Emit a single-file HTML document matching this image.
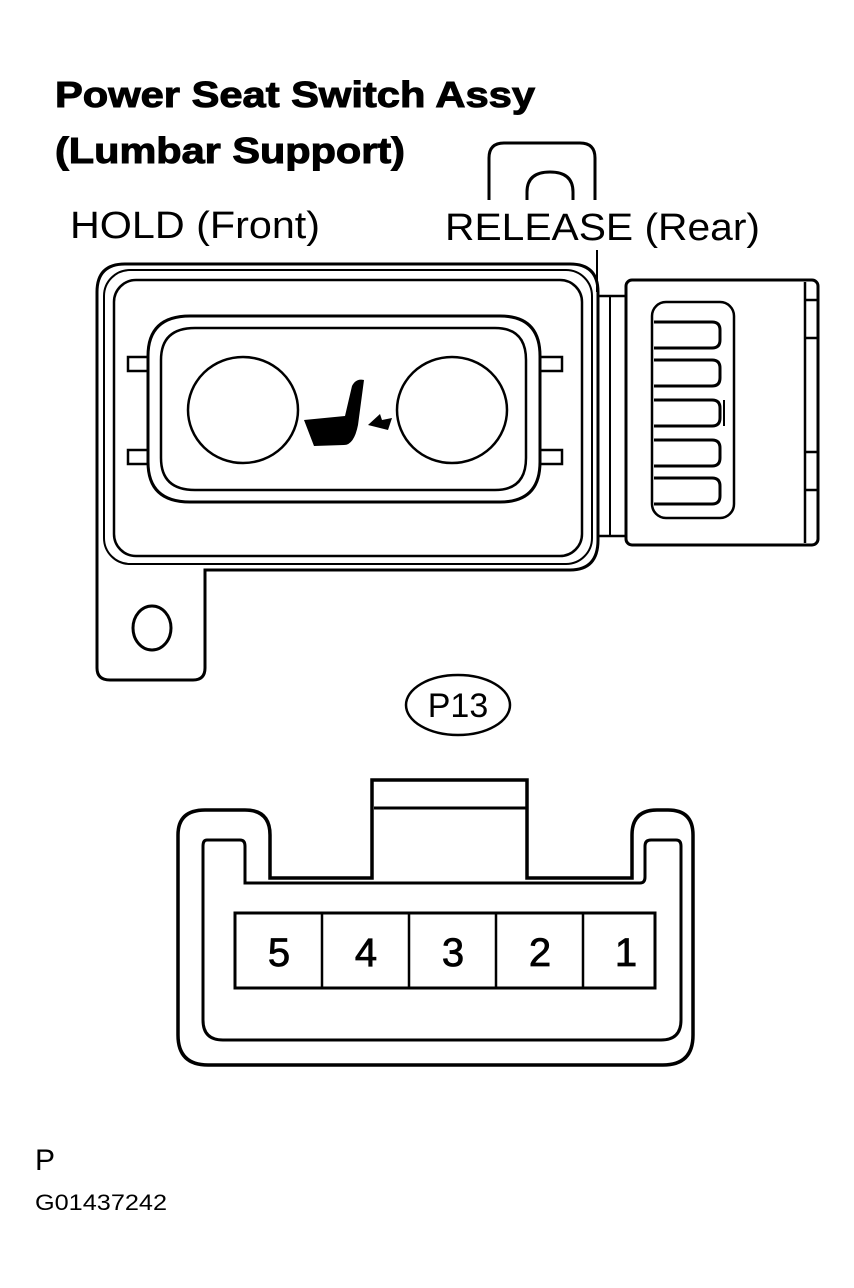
<!DOCTYPE html>
<html><head><meta charset="utf-8"><style>
html,body{margin:0;padding:0;background:#fff;width:854px;height:1288px;overflow:hidden}
svg{display:block}
text{font-family:"Liberation Sans",Arial,sans-serif;fill:#000}
</style></head><body>
<svg width="854" height="1288" viewBox="0 0 854 1288" xmlns="http://www.w3.org/2000/svg">
<text x="55" y="107" font-size="36" font-weight="bold" stroke="#000" stroke-width="1" textLength="480" lengthAdjust="spacingAndGlyphs">Power Seat Switch Assy</text>
<text x="55" y="163" font-size="36" font-weight="bold" stroke="#000" stroke-width="1" textLength="350" lengthAdjust="spacingAndGlyphs">(Lumbar Support)</text>
<text x="70" y="238" font-size="38" textLength="250" lengthAdjust="spacingAndGlyphs">HOLD (Front)</text>
<text x="445" y="240" font-size="38" textLength="315" lengthAdjust="spacingAndGlyphs">RELEASE (Rear)</text>

<g fill="none" stroke="#000" stroke-width="3">
<path d="M489 200 V158 Q489 143 504 143 H580 Q595 143 595 158 V200"/>
<path d="M527 200 V192 Q527 172 550 172 Q573 172 573 192 V200"/>
<line x1="597" y1="250" x2="597" y2="292" stroke-width="2"/>
<path d="M125 264 H570 Q598 264 598 292 V540 Q598 570 570 570 H205 V668 Q205 680 193 680 H110 Q97 680 97 668 V292 Q97 264 125 264 Z"/>
<rect x="104" y="270" width="488" height="294" rx="26" stroke-width="2"/>
<rect x="114" y="280" width="468" height="276" rx="22" stroke-width="2.5"/>
<ellipse cx="152" cy="628" rx="19" ry="22"/>
<path d="M190 316 H500 Q540 316 540 356 V462 Q540 502 500 502 H190 Q148 502 148 462 V356 Q148 316 190 316 Z"/>
<path d="M195 328 H495 Q526 328 526 360 V458 Q526 490 495 490 H195 Q161 490 161 458 V360 Q161 328 195 328 Z" stroke-width="2.5"/>
<rect x="128" y="357" width="20" height="14" stroke-width="2.5"/>
<rect x="128" y="450" width="20" height="14" stroke-width="2.5"/>
<rect x="540" y="357" width="22" height="14" stroke-width="2.5"/>
<rect x="540" y="450" width="22" height="14" stroke-width="2.5"/>
<ellipse cx="243" cy="410" rx="55" ry="53" stroke-width="2.5"/>
<ellipse cx="452" cy="410" rx="55" ry="53" stroke-width="2.5"/>
<rect x="598" y="296" width="28" height="240" stroke-width="2.5"/>
<line x1="610" y1="296" x2="610" y2="536" stroke-width="2"/>
<rect x="626" y="280" width="192" height="265" rx="6"/>
<line x1="805" y1="282" x2="805" y2="543" stroke-width="2.5"/>
<path d="M805 300 H818 M805 338 H818 M805 452 H818 M805 490 H818" stroke-width="2.5"/>
<rect x="652" y="302" width="82" height="216" rx="14" stroke-width="2.5"/>
<path d="M654 322 H712 Q720 322 720 330 V340 Q720 348 712 348 H654"/>
<path d="M654 360 H712 Q720 360 720 368 V378 Q720 386 712 386 H654"/>
<path d="M654 400 H712 Q720 400 720 408 V418 Q720 426 712 426 H654"/>
<path d="M654 440 H712 Q720 440 720 448 V458 Q720 466 712 466 H654"/>
<path d="M654 478 H712 Q720 478 720 486 V496 Q720 504 712 504 H654"/>
<line x1="724" y1="400" x2="724" y2="426" stroke-width="2"/>
</g>
<path d="M304 420 L345 416 L352 386 Q356 378 364 380 L358 425 Q354 445 344 445 L314 446 Z" fill="#000"/>
<path d="M368 425 L380 414 L382 420 L392 418 L388 430 Z" fill="#000"/>

<ellipse cx="458" cy="705" rx="52" ry="30" fill="none" stroke="#000" stroke-width="2.5"/>
<text x="458" y="717" font-size="34" text-anchor="middle">P13</text>

<g fill="none" stroke="#000" stroke-width="3.5">
<path d="M178 835 Q178 810 205 810 H245 Q270 810 270 835 V878 H372 V780 H527 V878 H632 V835 Q632 810 657 810 H668 Q693 810 693 835 V1035 Q693 1065 663 1065 H208 Q178 1065 178 1035 Z"/>
<path d="M207 840 H240 Q245 840 245 846 V883 H640 Q645 883 645 877 V846 Q645 840 651 840 H676 Q681 840 681 846 V1020 Q681 1040 661 1040 H223 Q203 1040 203 1020 V846 Q203 840 207 840 Z" stroke-width="3"/>
<line x1="374" y1="808" x2="526" y2="808" stroke-width="3"/>
<rect x="235" y="913" width="420" height="75" stroke-width="3"/>
<path d="M322 913 V988 M409 913 V988 M496 913 V988 M583 913 V988" stroke-width="2.5"/>
</g>
<g font-size="40" text-anchor="middle" stroke="#000" stroke-width="0.8">
<text x="279" y="966">5</text>
<text x="366" y="966">4</text>
<text x="453" y="966">3</text>
<text x="540" y="966">2</text>
<text x="626" y="966">1</text>
</g>

<text x="35" y="1170" font-size="30">P</text>
<text x="35" y="1210" font-size="22" textLength="132" lengthAdjust="spacingAndGlyphs">G01437242</text>
</svg>
</body></html>
